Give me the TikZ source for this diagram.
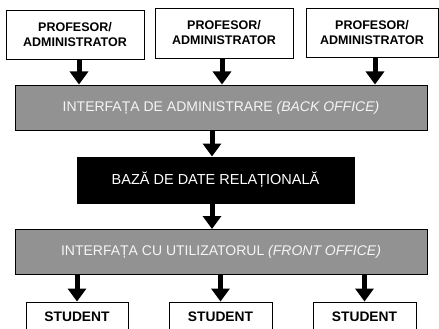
\documentclass[tikz,border=0pt]{standalone}
\usepackage{fontspec}
\setmainfont{Liberation Sans}
\usetikzlibrary{arrows.meta}
\definecolor{BarGray}{RGB}{146,146,146}

\begin{document}
\begin{tikzpicture}[x=1pt, y=-1pt,
	userbox/.style={draw, line width=0.9pt, fill=white, align=center, inner sep=0pt,
		font=\fontsize{12.5}{15}\selectfont\bfseries},
	bar/.style={draw, line width=1pt, fill=BarGray, minimum width=412pt, minimum height=45pt,
		inner sep=0pt, text=white!92!gray, font=\fontsize{14}{16}\selectfont},
	bigarrow/.style={line width=5pt, -{Triangle[width=18pt,length=13pt]}}]
			\useasboundingbox (0,0) rectangle (439,329);
			% utilizatori de sus
			\node[userbox, minimum width=138pt, minimum height=49pt] (prof1) at (75,34.5) {PROFESOR/\\ADMINISTRATOR};
			\node[userbox, minimum width=138pt, minimum height=50pt] (prof2) at (224,33) {PROFESOR/\\ADMINISTRATOR};
			\node[userbox, minimum width=132pt, minimum height=49pt] (prof3) at (372,32.5) {PROFESOR/\\ADMINISTRATOR};
			\node[bar] (backoff) at (221,107.5) {INTERFAȚA DE ADMINISTRARE \textit{(BACK OFFICE)}};
			\node[draw, line width=1pt, fill=black, text=white, minimum width=277pt, minimum height=46pt,
				inner sep=0pt, font=\fontsize{14.5}{16}\selectfont] (bazadate) at (215.5,180) {BAZĂ DE DATE RELAȚIONALĂ};
			\node[bar] (frontoff) at (221,252) {INTERFAȚA CU UTILIZATORUL \textit{(FRONT OFFICE)}};
			% studenti
			\node[userbox, minimum width=102pt, minimum height=30pt, font=\fontsize{13.8}{15}\selectfont\bfseries] (stud1) at (77,317) {STUDENT};
			\node[userbox, minimum width=103pt, minimum height=30pt, font=\fontsize{13.8}{15}\selectfont\bfseries] (stud2) at (220.5,317) {STUDENT};
			\node[userbox, minimum width=103pt, minimum height=30pt, font=\fontsize{13.8}{15}\selectfont\bfseries] (stud3) at (364.5,317) {STUDENT};
			% sageti
			\draw[bigarrow] ([xshift=4pt]prof1.south) -- ([xshift=4pt]prof1.south |- backoff.north);
			\draw[bigarrow] ([xshift=-2pt]prof2.south) -- ([xshift=-2pt]prof2.south |- backoff.north);
			\draw[bigarrow] ([xshift=3pt]prof3.south) -- ([xshift=3pt]prof3.south |- backoff.north);
			\draw[bigarrow] ([xshift=-3.5pt]backoff.south -| bazadate.north) -- ([xshift=-3.5pt]bazadate.north);
			\draw[bigarrow] ([xshift=-3.5pt]bazadate.south) -- ([xshift=-3.5pt]bazadate.south |- frontoff.north);
			\foreach \s in {stud1,stud2,stud3}
				\draw[bigarrow] (frontoff.south -| \s.north) -- (\s.north);
		\end{tikzpicture}
\end{document}
